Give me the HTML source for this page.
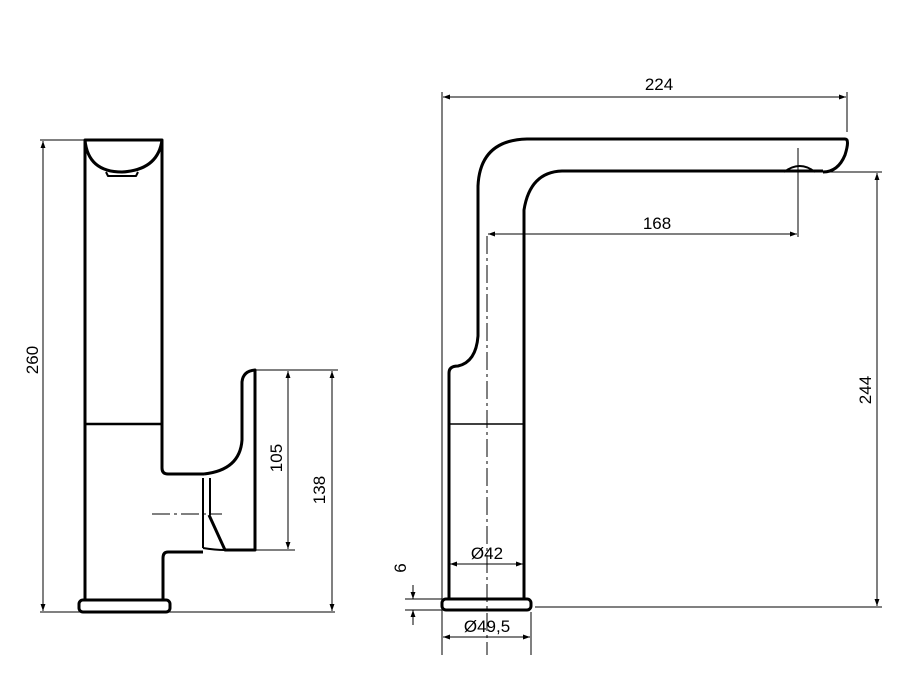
<!DOCTYPE html>
<html><head><style>body{margin:0;background:#fff}svg{display:block}text{font-family:"Liberation Sans",sans-serif;font-size:17px;fill:#000}</style></head>
<body>
<svg width="900" height="680" viewBox="0 0 900 680" xmlns="http://www.w3.org/2000/svg">
<defs>
<marker id="a" viewBox="0 0 10 10" refX="10" refY="5" markerWidth="9" markerHeight="7" orient="auto-start-reverse" markerUnits="userSpaceOnUse"><path d="M0,1.5 L10,5 L0,8.5 z" fill="#000"/></marker>
</defs>
<g fill="none" stroke="#000" stroke-width="3" stroke-linejoin="round">
<path d="M85,600 V140 H162 V468 Q162,474 168,474 H204"/>
<path d="M85,140 Q88,172 122,172 Q158,170 162,140"/>
<path d="M106,172 L108,176 H136 L138,172" stroke-width="2"/>
<line x1="85" y1="424" x2="162" y2="424" stroke-width="2.5"/>
<path d="M204,474 Q240,470 242,440 V382 Q243,371 255,370 V550 H225 L209,515"/>
<path d="M203,478 V548 M210,478 V515" stroke-width="2"/>
<path d="M203,548 Q215,550 225,550" stroke-width="2"/>
<path d="M203,552 H168 Q163,552 163,558 V600"/>
<rect x="79" y="600" width="91" height="12" rx="4"/>
<path d="M449,599 V373 Q449,366 458,366 Q476,362 478,336 V186 Q480,140 527,139 H845 Q850,139 845,155 Q838,172 823,172"/>
<path d="M524,599 V210 Q530,172 562,171 H823"/>
<path d="M784,172 Q800,160 815,172" stroke-width="2"/>
<line x1="449" y1="424" x2="524" y2="424" stroke-width="1.5"/>
<rect x="442" y="599" width="89" height="11" rx="4"/>
</g>
<g fill="none" stroke="#000" stroke-width="1">
<line x1="40" y1="140" x2="85" y2="140"/>
<line x1="40" y1="612" x2="335" y2="612"/>
<line x1="43" y1="141" x2="43" y2="611" marker-start="url(#a)" marker-end="url(#a)"/>
<line x1="255" y1="370" x2="338" y2="370"/>
<line x1="255" y1="550" x2="295" y2="550"/>
<line x1="288" y1="371" x2="288" y2="549" marker-start="url(#a)" marker-end="url(#a)"/>
<line x1="332" y1="371" x2="332" y2="611" marker-start="url(#a)" marker-end="url(#a)"/>
<line x1="152" y1="514" x2="222" y2="514" stroke-dasharray="18,4,3,4"/>
<line x1="442" y1="92" x2="442" y2="655"/>
<line x1="847" y1="92" x2="847" y2="132"/>
<line x1="443" y1="97" x2="846" y2="97" marker-start="url(#a)" marker-end="url(#a)"/>
<line x1="798" y1="148" x2="798" y2="237"/>
<line x1="488" y1="234" x2="797" y2="234" marker-start="url(#a)" marker-end="url(#a)"/>
<line x1="487" y1="236" x2="487" y2="655" stroke-dasharray="18,4,3,4"/>
<line x1="823" y1="172" x2="882" y2="172"/>
<line x1="535" y1="607" x2="882" y2="607"/>
<line x1="877" y1="173" x2="877" y2="606" marker-start="url(#a)" marker-end="url(#a)"/>
<line x1="450" y1="564" x2="523" y2="564" marker-start="url(#a)" marker-end="url(#a)"/>
<line x1="531" y1="612" x2="531" y2="655"/>
<line x1="443" y1="637" x2="530" y2="637" marker-start="url(#a)" marker-end="url(#a)"/>
<line x1="405" y1="599" x2="442" y2="599"/>
<line x1="405" y1="610" x2="442" y2="610"/>
<line x1="413" y1="585" x2="413" y2="599" marker-end="url(#a)"/>
<line x1="413" y1="625" x2="413" y2="610" marker-end="url(#a)"/>
</g>
<text x="659" y="90" text-anchor="middle">224</text>
<text x="657" y="229" text-anchor="middle">168</text>
<text x="487" y="559" text-anchor="middle">Ø42</text>
<text x="487" y="632" text-anchor="middle">Ø49,5</text>
<text transform="translate(38,360) rotate(-90)" text-anchor="middle">260</text>
<text transform="translate(282,458) rotate(-90)" text-anchor="middle">105</text>
<text transform="translate(325,490) rotate(-90)" text-anchor="middle">138</text>
<text transform="translate(871,390) rotate(-90)" text-anchor="middle">244</text>
<text transform="translate(406,568) rotate(-90)" text-anchor="middle">6</text>
</svg>
</body></html>
